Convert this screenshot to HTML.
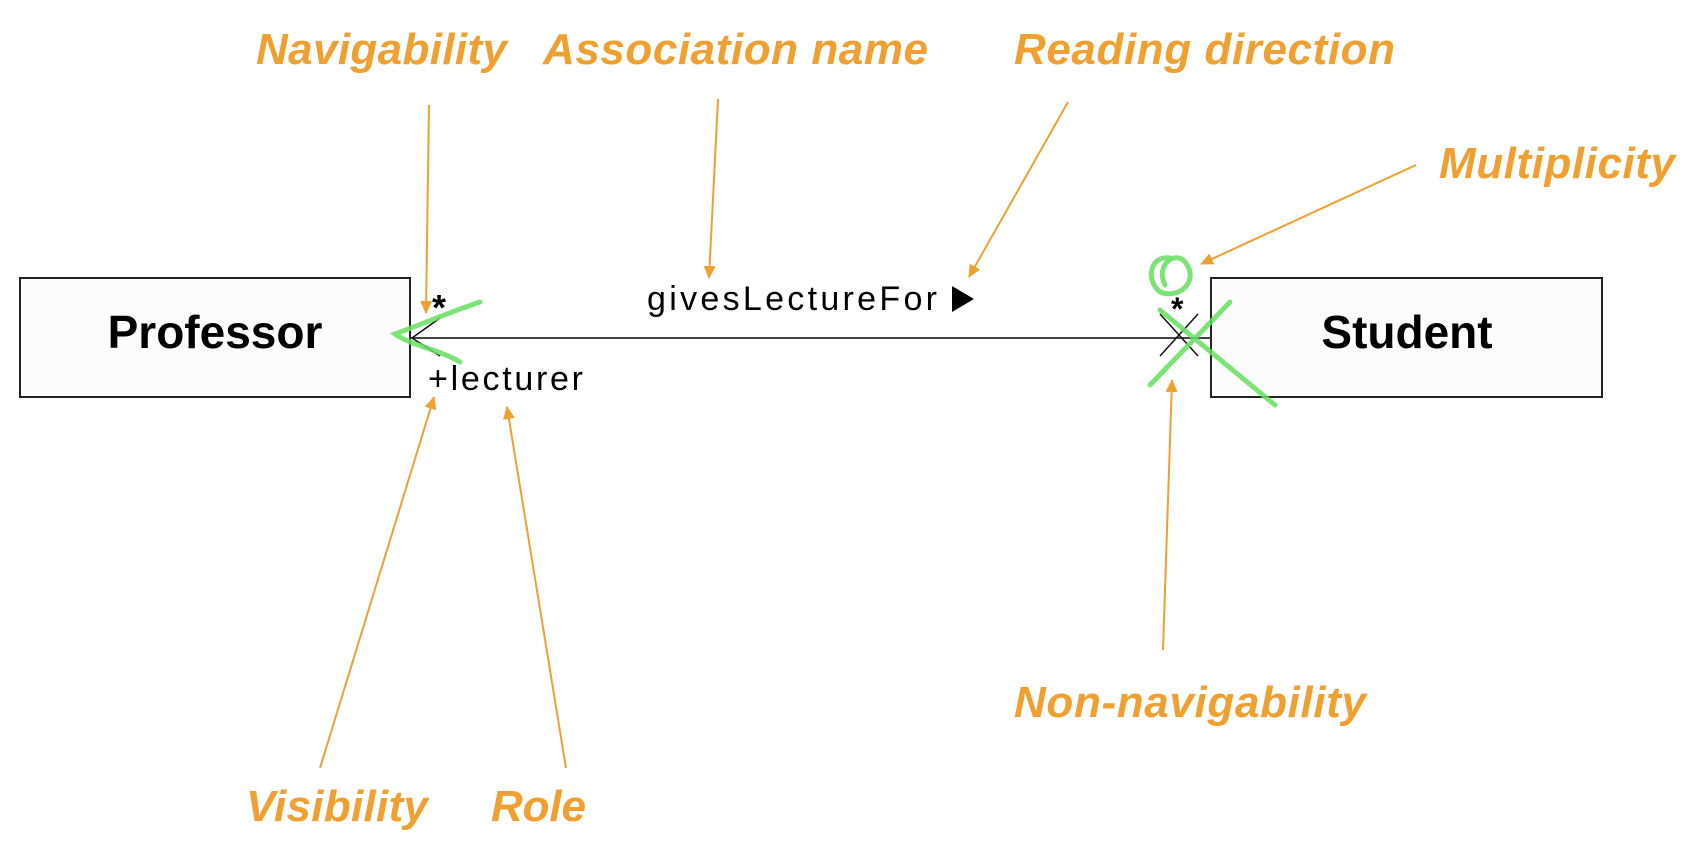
<!DOCTYPE html>
<html><head><meta charset="utf-8"><style>
html,body{margin:0;padding:0;background:#fff;}
svg{display:block;}
.o{font-family:"Liberation Sans",sans-serif;font-weight:bold;font-style:italic;fill:#f0a030;font-size:44px;}
.b{font-family:"Liberation Sans",sans-serif;fill:#000;}
</style></head><body>
<svg width="1692" height="866" viewBox="0 0 1692 866" xmlns="http://www.w3.org/2000/svg">
<defs><marker id="a" markerWidth="16" markerHeight="16" refX="12" refY="6" orient="auto" markerUnits="userSpaceOnUse"><path d="M0,0 L13,6 L0,12 z" fill="#f0a030"/></marker></defs>
<rect x="20" y="278" width="390" height="119" fill="#fcfcfc" stroke="#222" stroke-width="2"/>
<rect x="1211" y="278" width="391" height="119" fill="#fcfcfc" stroke="#222" stroke-width="2"/>
<line x1="410" y1="338" x2="1211" y2="338" stroke="#444" stroke-width="2"/>
<path d="M440,318 L412,338 L440,356" fill="none" stroke="#111" stroke-width="1.5"/>
<path d="M1160,314 L1198,356 M1198,314 L1160,356" stroke="#111" stroke-width="1.5"/>
<text class="b" x="215" y="348" font-size="46" font-weight="bold" text-anchor="middle">Professor</text>
<text class="b" x="1407" y="348" font-size="46" font-weight="bold" text-anchor="middle">Student</text>
<text class="b" x="432" y="320" font-size="36" font-weight="bold">*</text>
<text class="b" x="1171" y="320" font-size="32" font-weight="bold">*</text>
<text class="b" x="647" y="310" font-size="34" textLength="290">givesLectureFor</text>
<path d="M952,286 L974,299 L952,312 z" fill="#000"/>
<text class="b" x="428" y="390" font-size="34" textLength="155">+lecturer</text>
<g fill="none" stroke="#66e060" stroke-width="5" stroke-linecap="round" opacity="0.85">
<path d="M480,302 C450,312 420,325 395,334 C410,345 440,350 460,362"/>
<path d="M1170,258 C1150,255 1145,280 1160,292 C1180,300 1200,280 1185,262 C1175,250 1155,265 1165,285"/>
<path d="M1150,385 L1230,302 M1160,310 L1275,405"/>
</g>
<g stroke="#f0a030" stroke-width="2" fill="none" marker-end="url(#a)">
<line x1="429" y1="105" x2="426" y2="313"/>
<line x1="718" y1="99" x2="709" y2="278"/>
<line x1="1068" y1="102" x2="969" y2="277"/>
<line x1="1416" y1="165" x2="1201" y2="264"/>
<line x1="1163" y1="650" x2="1172" y2="380"/>
<line x1="320" y1="768" x2="434" y2="397"/>
<line x1="566" y1="768" x2="507" y2="407"/>
</g>
<text class="o" x="256" y="64" textLength="251">Navigability</text>
<text class="o" x="543" y="64" textLength="385">Association name</text>
<text class="o" x="1014" y="64" textLength="381">Reading direction</text>
<text class="o" x="1439" y="178" textLength="236">Multiplicity</text>
<text class="o" x="1014" y="717" textLength="352">Non-navigability</text>
<text class="o" x="246" y="821" textLength="182">Visibility</text>
<text class="o" x="491" y="821" textLength="95">Role</text>
</svg>
</body></html>
